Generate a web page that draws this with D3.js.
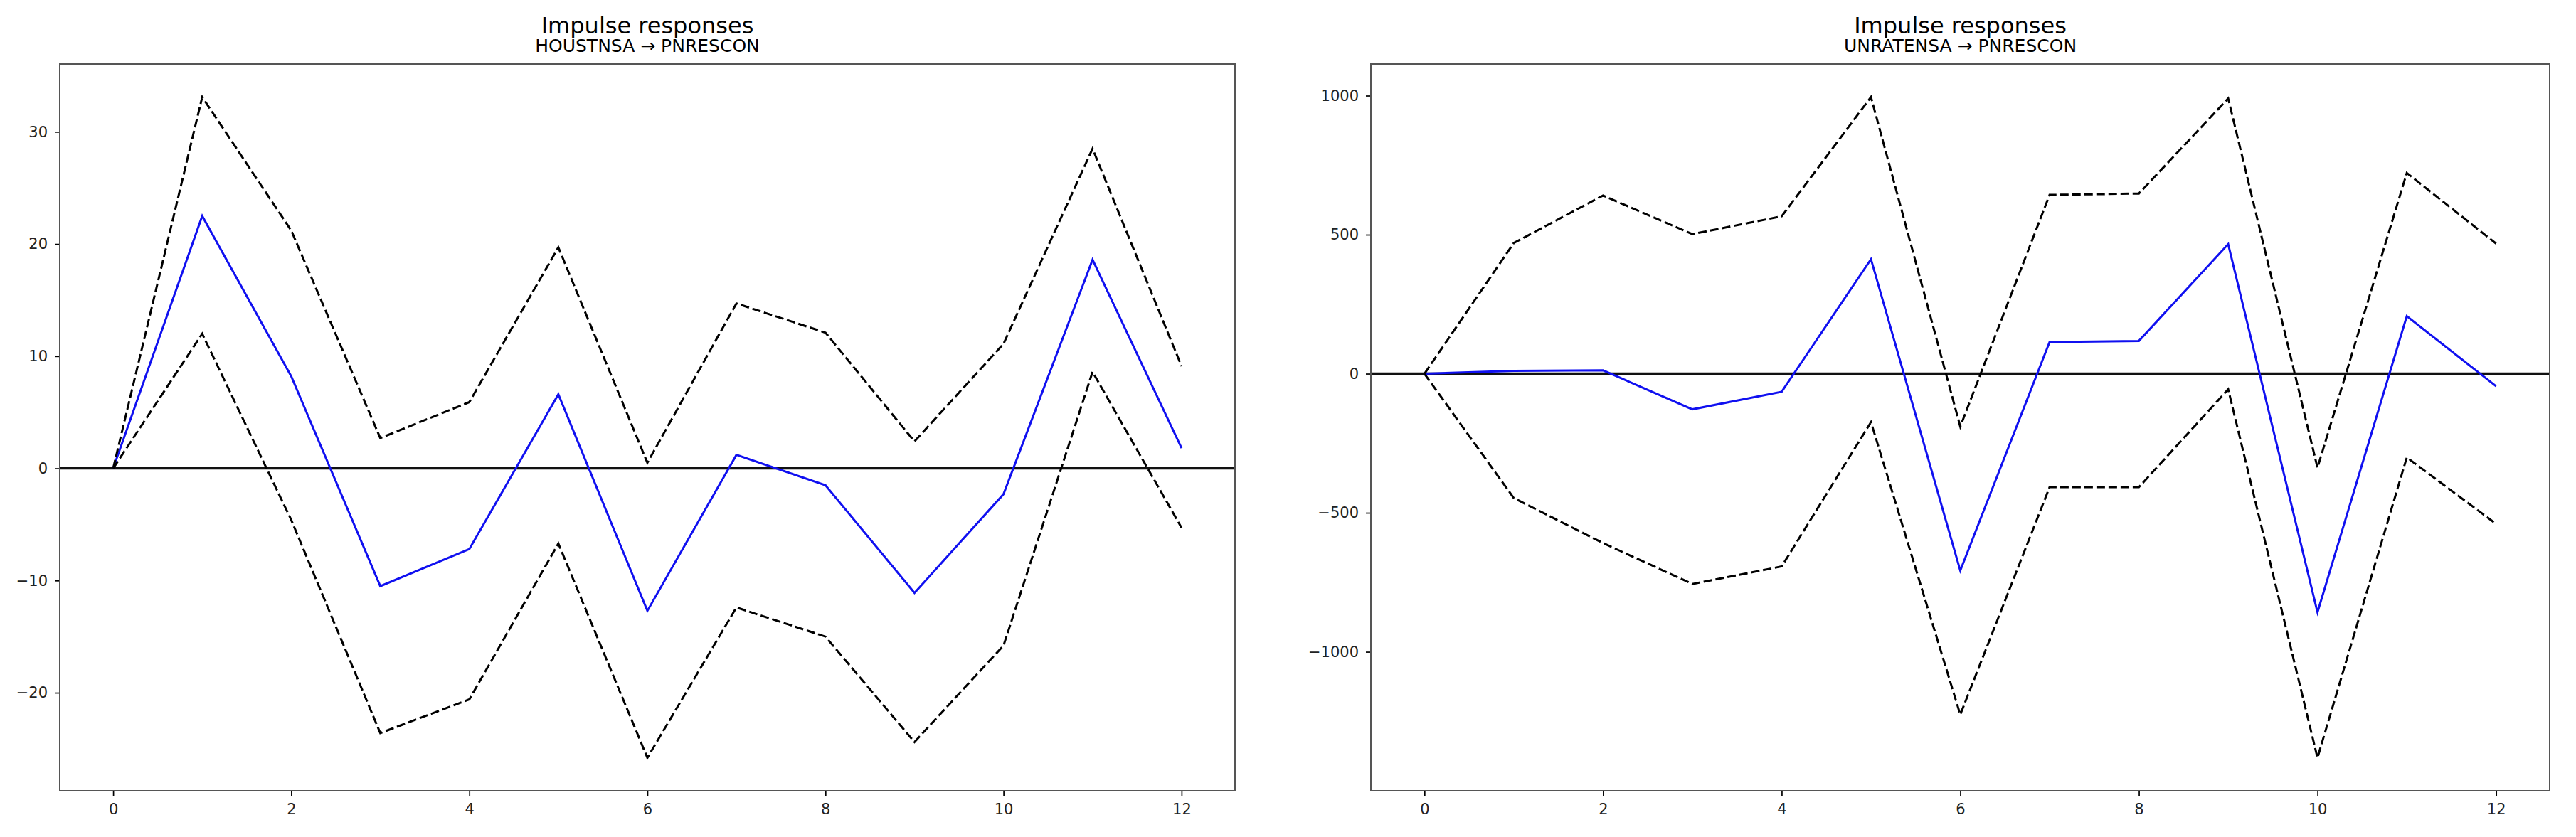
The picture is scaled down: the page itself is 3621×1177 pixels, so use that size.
<!DOCTYPE html>
<html lang="en">
<head>
  <meta charset="UTF-8">
  <title>Impulse responses</title>
  <script src="https://d3js.org/d3.v7.min.js"></script>
  <style>
    body { margin: 0; background: #fff; }
    svg text { font-family: "DejaVu Sans", sans-serif; fill: #000; }
    .tick text { font-size: 21px; fill: #222; }
    .tick line { stroke: #000; stroke-width: 1.7px; }
  </style>
</head>
<body>
  <script>
    // horizon steps 0..12
    var steps = d3.range(0, 13);

    // HOUSTNSA -> PNRESCON
    var houstIrf   = [0, 22.5, 8.2, -10.5, -7.2, 6.6, -12.7, 1.2, -1.5, -11.1, -2.3, 18.6, 1.8];
    var houstUpper = [0, 33.1, 21.2, 2.7, 5.9, 19.7, 0.5, 14.7, 12.1, 2.4, 11.1, 28.5, 9.1];
    var houstLower = [0, 12.0, -4.6, -23.6, -20.6, -6.7, -25.8, -12.4, -15.0, -24.4, -15.8, 8.6, -5.3];

    // UNRATENSA -> PNRESCON
    var unrateIrf   = [0, 10, 12, -128, -65, 412, -708, 114, 118, 466, -858, 207, -45];
    var unrateUpper = [0, 470, 641, 502, 566, 995, -190, 643, 648, 990, -338, 722, 468];
    var unrateLower = [0, -447, -609, -756, -693, -174, -1226, -408, -408, -56, -1381, -301, -540];

    var xTicks = [0, 2, 4, 6, 8, 10, 12];
    var houstTicks = [-20, -10, 0, 10, 20, 30];
    var unrateTicks = [-1000, -500, 0, 500, 1000];

    var width = 3621, height = 1177;

    var svg = d3.select("body").append("svg")
      .attr("width", width)
      .attr("height", height);

    svg.append("rect").attr("width", width).attr("height", height).attr("fill", "#fff");

    var panels = [
      { left: 84, right: 1736, subtitle: "HOUSTNSA \u2192 PNRESCON",
        irf: houstIrf, upper: houstUpper, lower: houstLower, yTicks: houstTicks },
      { left: 1927, right: 3584, subtitle: "UNRATENSA \u2192 PNRESCON",
        irf: unrateIrf, upper: unrateUpper, lower: unrateLower, yTicks: unrateTicks }
    ];

    var plotTop = 90, plotBottom = 1112;

    panels.forEach(function(p) {
      var w = p.right - p.left, h = plotBottom - plotTop;
      var g = svg.append("g").attr("transform", "translate(" + p.left + "," + plotTop + ")");

      // matplotlib style 5% margins
      var lo = d3.min(p.lower.concat(p.irf)), hi = d3.max(p.upper.concat(p.irf));
      var pad = (hi - lo) * 0.05;

      var x = d3.scaleLinear().domain([-0.6, 12.6]).range([0, w]);
      var y = d3.scaleLinear().domain([lo - pad, hi + pad]).range([h, 0]);

      var line = d3.line()
        .x(function(d, i) { return x(steps[i]); })
        .y(function(d) { return y(d); });

      // zero line
      g.append("line")
        .attr("x1", 0).attr("x2", w)
        .attr("y1", y(0)).attr("y2", y(0))
        .attr("stroke", "#111")
        .attr("stroke-width", 3.5);

      g.append("path").datum(p.irf)
        .attr("d", line)
        .attr("fill", "none")
        .attr("stroke", "#1010f0")
        .attr("stroke-width", 3);

      [p.upper, p.lower].forEach(function(band) {
        g.append("path").datum(band)
          .attr("d", line)
          .attr("fill", "none")
          .attr("stroke", "#000")
          .attr("stroke-width", 3)
          .attr("stroke-dasharray", "12,5");
      });

      var xAxis = g.append("g")
        .attr("transform", "translate(0," + h + ")")
        .call(d3.axisBottom(x).tickValues(xTicks).tickFormat(d3.format("d"))
          .tickSize(7).tickPadding(11).tickSizeOuter(0));
      xAxis.select(".domain").remove();

      var yAxis = g.append("g")
        .call(d3.axisLeft(y).tickValues(p.yTicks).tickFormat(d3.format("d"))
          .tickSize(7).tickPadding(10).tickSizeOuter(0));
      yAxis.select(".domain").remove();

      svg.selectAll(".tick text").attr("font-family", null);

      // spines
      g.append("rect")
        .attr("width", w).attr("height", h)
        .attr("fill", "none")
        .attr("stroke", "#555")
        .attr("stroke-width", 2);

      var cx = p.left + w / 2;
      svg.append("text")
        .attr("x", cx).attr("y", 47)
        .attr("text-anchor", "middle")
        .style("font-size", "32px")
        .text("Impulse responses");
      svg.append("text")
        .attr("x", cx).attr("y", 73)
        .attr("text-anchor", "middle")
        .style("font-size", "25px")
        .text(p.subtitle);
    });
  </script>
</body>
</html>
